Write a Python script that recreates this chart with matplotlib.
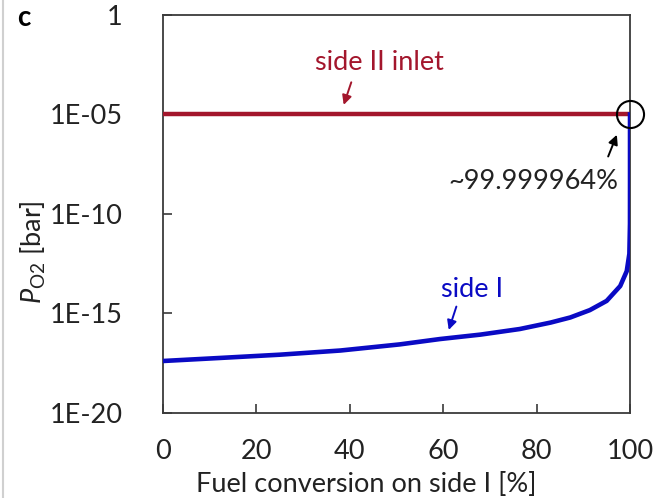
import matplotlib
matplotlib.use('Agg')
import matplotlib.pyplot as plt
from matplotlib.lines import Line2D

plt.rcParams['font.family'] = ['Lato', 'DejaVu Sans']
plt.rcParams['mathtext.fontset'] = 'custom'
plt.rcParams['mathtext.rm'] = 'Lato'
plt.rcParams['mathtext.it'] = 'Lato:italic'

# side I: fuel conversion [%] vs pO2 [bar]
conv_side1 = [0, 12, 25, 38, 50.7, 59.3, 68, 76.4, 83, 87.2, 91.4, 95,
              97.9, 99.3, 99.86, 99.99, 99.999, 99.999964]
po2_side1 = [4.1e-18, 5.8e-18, 8.5e-18, 1.38e-17, 2.8e-17, 5.2e-17, 8.7e-17,
             1.66e-16, 3.5e-16, 6.3e-16, 1.48e-15, 4.3e-15,
             2.4e-14, 1.35e-13, 1.0e-12, 3.2e-11, 3.2e-09, 1.0e-05]

# side II inlet level
conv_side2 = [0, 100]
po2_side2 = [1e-5, 1e-5]

yticks = [1e-20, 1e-15, 1e-10, 1e-5, 1]
ytick_labels = ['1E-20', '1E-15', '1E-10', '1E-05', '1']
xticks = [0, 20, 40, 60, 80, 100]

red = '#a3162c'
blue = '#0a0ac4'
dark = '#3a3a3a'
txt = '#222222'
fs = 19.5

fig = plt.figure(figsize=(6.56, 4.98), dpi=100)
ax = fig.add_axes([0.2485, 0.1707, 0.7119, 0.7992])

ax.plot(conv_side2, po2_side2, color=red, lw=3.2, solid_capstyle='butt', zorder=3)
ax.plot(conv_side1, po2_side1, color=blue, lw=3.3, zorder=4)

ax.set_yscale('log')
ax.set_xlim(0, 100)
ax.set_ylim(1e-20, 1)
ax.set_yticks(yticks)
ax.set_yticklabels(ytick_labels)
ax.set_xticks(xticks)
ax.minorticks_off()
ax.tick_params(axis='both', direction='in', length=6.5, width=1.2, color=dark,
               labelsize=fs, labelcolor=txt)
ax.tick_params(axis='y', pad=29)
ax.tick_params(axis='x', pad=19)
for sp in ax.spines.values():
    sp.set_color(dark)
    sp.set_linewidth(1.3)

ax.set_xlabel('Fuel conversion on side I [%]', fontsize=fs, color=txt, va='center')
ax.xaxis.set_label_coords(0.435, -0.18)
ax.set_ylabel(r'$\mathit{P}_{\mathrm{O2}}$ [bar]', fontsize=fs, color=txt, va='center')
ax.yaxis.set_label_coords(-0.278, 0.405)

# annotations
ax.text(46.3, 10**-2.4, 'side II inlet', color=red, fontsize=fs, ha='center', va='center')
ax.annotate('', xy=(38.5, 10**-4.65), xytext=(40.5, 10**-3.25),
            arrowprops=dict(arrowstyle='-|>', color=red, lw=1.4, mutation_scale=14))

ax.text(66.2, 10**-13.77, 'side I', color=blue, fontsize=fs, ha='center', va='center')
ax.annotate('', xy=(61.0, 10**-15.96), xytext=(63.0, 10**-14.52),
            arrowprops=dict(arrowstyle='-|>', color=blue, lw=1.4, mutation_scale=14))

ax.text(79.4, 10**-8.38, '~99.999964%', color=txt, fontsize=fs, ha='center', va='center')
ax.annotate('', xy=(97.4, 10**-5.89), xytext=(95.1, 10**-7.24),
            arrowprops=dict(arrowstyle='-|>', color='black', lw=1.4, mutation_scale=14))

ax.plot([conv_side1[-1]], [po2_side1[-1]], marker='o', ms=19.5, mfc='none',
        mec='black', mew=1.5, clip_on=False, zorder=5)

fig.text(0.026, 0.963, 'c', fontsize=20, fontweight='bold', ha='left', va='center')
fig.add_artist(Line2D([0.005, 0.005], [0, 1], color='#d0d0d0', lw=1.5))

fig.savefig('out.png', dpi=100)
